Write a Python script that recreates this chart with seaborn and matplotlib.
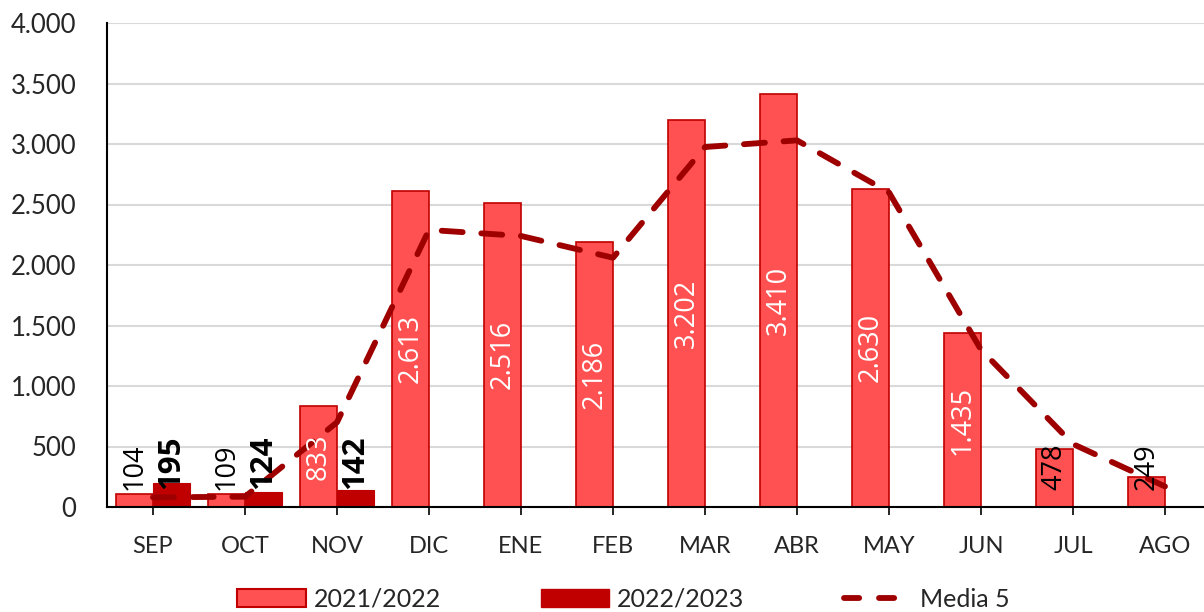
import matplotlib
matplotlib.use("Agg")
import matplotlib.pyplot as plt
import seaborn as sns
import numpy as np
import pandas as pd
from matplotlib.patches import Patch
from matplotlib.lines import Line2D

months = ["SEP", "OCT", "NOV", "DIC", "ENE", "FEB", "MAR", "ABR", "MAY", "JUN", "JUL", "AGO"]
s2122 = [104, 109, 833, 2613, 2516, 2186, 3202, 3410, 2630, 1435, 478, 249]
s2223 = [195, 124, 142, np.nan, np.nan, np.nan, np.nan, np.nan, np.nan, np.nan, np.nan, np.nan]
media5 = [80, 85, 700, 2290, 2240, 2060, 2975, 3030, 2600, 1300, 520, 170]
series_names = ["2021/2022", "2022/2023", "Media 5"]

C_LIGHT = "#FF5151"
C_DARK = "#C00000"
C_LINE = "#9E0000"

sns.set_theme(style="white")
plt.rcParams["font.family"] = ["Lato", "DejaVu Sans"]

df = pd.DataFrame({
    "mes": months * 2,
    "valor": s2122 + s2223,
    "serie": [series_names[0]] * 12 + [series_names[1]] * 12,
})

fig = plt.figure(figsize=(12.04, 6.12), dpi=100)
ax = fig.add_axes([107 / 1204, 105 / 612, 1104 / 1204, 484 / 612])

sns.barplot(data=df, x="mes", y="valor", hue="serie", order=months,
            hue_order=series_names[:2], palette=[C_LIGHT, C_DARK],
            width=0.8, dodge=True, saturation=1, errorbar=None,
            legend=False, ax=ax, zorder=2)
for p in ax.patches[:12]:
    p.set_edgecolor(C_DARK)
    p.set_linewidth(1.2)
for p in ax.patches[12:]:
    p.set_edgecolor(C_DARK)
    p.set_linewidth(0.8)

ax.plot(np.arange(len(months)), media5, color=C_LINE, lw=4.2,
        dashes=(3.6, 3.2), dash_capstyle="round", zorder=4)

# data labels
for i, v in enumerate(s2122):
    col = "white" if v >= 800 else "black"
    ax.text(i - 0.2, max(v / 2, 330), f"{v:,}".replace(",", "."), rotation=90,
            ha="center", va="center", color=col, fontsize=19.5,
            family=["Open Sans", "DejaVu Sans"], zorder=5)
for i, v in enumerate(s2223):
    if not np.isnan(v):
        ax.text(i + 0.2, max(v / 2, 368), f"{int(v)}", rotation=90,
                ha="center", va="center", color="black", fontsize=22.5,
                fontweight="bold", family=["Open Sans", "DejaVu Sans"], zorder=5)

ax.set_ylim(0, 4000)
ax.set_xlim(-0.5, 11.5)
ax.set_yticks(np.arange(0, 4001, 500))
ax.set_yticklabels([f"{t:,}".replace(",", ".") for t in range(0, 4001, 500)], fontsize=18.5)
ax.set_xticks(np.arange(len(months)))
ax.set_xticklabels(months, fontsize=17)
ax.set_xlabel("")
ax.set_ylabel("")
ax.grid(axis="y", color="#D9D9D9", lw=1.5, zorder=0)
ax.set_axisbelow(True)
for s in ["top", "right"]:
    ax.spines[s].set_visible(False)
for s in ["left", "bottom"]:
    ax.spines[s].set_color("black")
    ax.spines[s].set_linewidth(1.5)
ax.tick_params(axis="y", length=0, pad=22)
ax.tick_params(axis="x", length=6, width=1.2, color="black", pad=15, direction="out", bottom=True)

handles = [
    Patch(facecolor=C_LIGHT, edgecolor=C_DARK, linewidth=1.5),
    Patch(facecolor=C_DARK, edgecolor=C_DARK),
    Line2D([0], [0], color=C_LINE, lw=4.2, dashes=(2.6, 3.4), dash_capstyle="round"),
]
fig.legend(handles, series_names, loc="lower center", bbox_to_anchor=(0.518, -0.035),
           ncol=3, frameon=False, fontsize=18, handlelength=2.75, handleheight=0.75,
           handletextpad=0.3, columnspacing=4.0)

fig.savefig("out.png", dpi=100)
